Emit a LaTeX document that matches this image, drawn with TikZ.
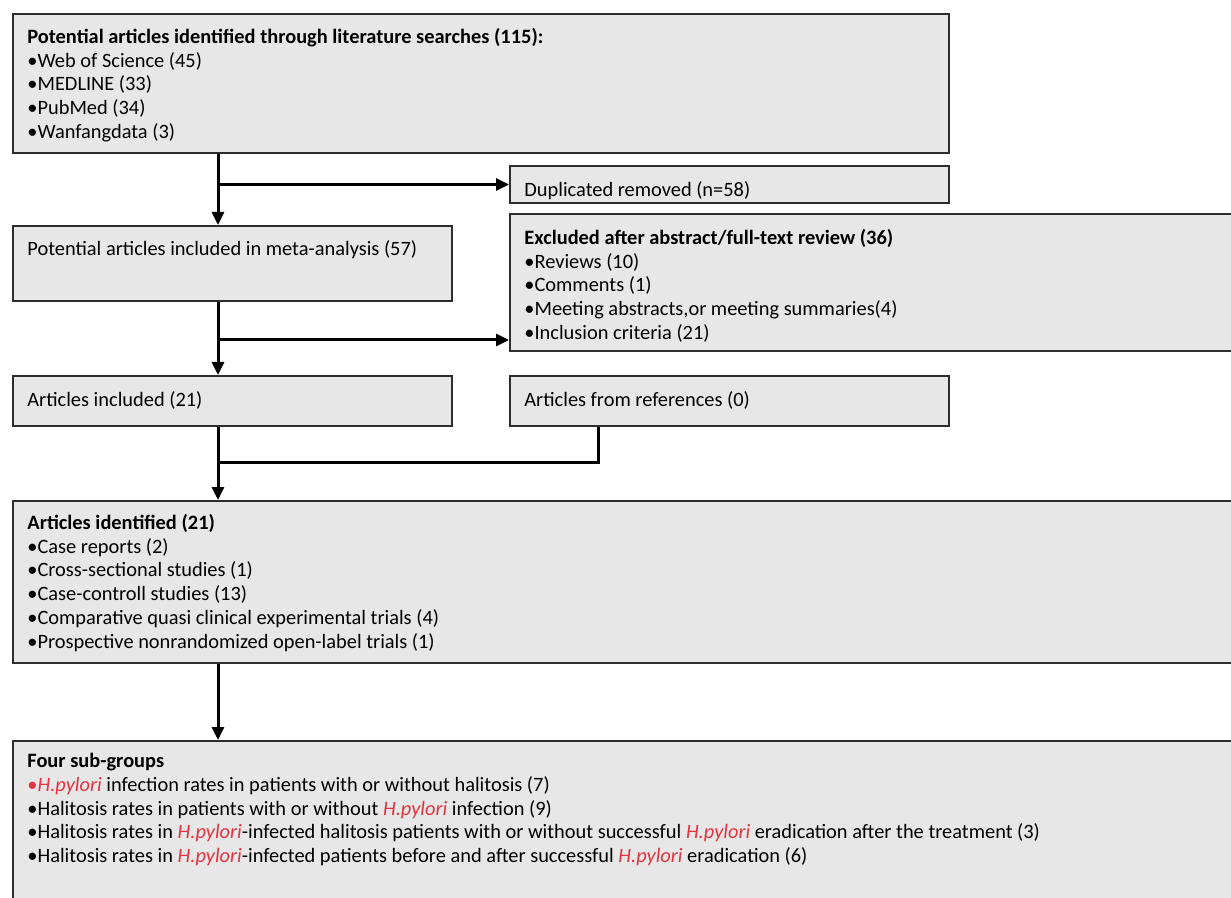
\documentclass[tikz,border=0pt]{standalone}
\usepackage{fontspec}
\setmainfont{Carlito}
\usetikzlibrary{arrows.meta}
\definecolor{boxgray}{RGB}{231,231,231}
\definecolor{boxline}{RGB}{45,45,45}
\definecolor{pyred}{RGB}{226,52,62}
\newcommand{\hpy}{\textcolor{pyred}{\textit{H.pylori}}}

\begin{document}
\begin{tikzpicture}[x=0.5pt, y=-0.5pt, >={Triangle[length=6.5pt,width=6pt]},
  box/.style={draw=boxline, line width=1pt, fill=boxgray, anchor=north west, inner sep=0pt},
  txt/.style={anchor=north west, inner sep=0pt, align=left,
    font=\fontsize{10.2}{11.85}\selectfont, execute at begin node=\strut},
  link/.style={line width=1.5pt, ->},
  joint/.style={line width=1.5pt}]

\useasboundingbox (0,0) rectangle (1231,898);
\clip (0,0) rectangle (1231,898);

% boxes
\node[box, minimum width=468pt, minimum height=69.5pt] (srch) at (12,13) {};
\node[box, minimum width=219.5pt, minimum height=18.5pt] (dup) at (509,165) {};
\node[box, minimum width=219.5pt, minimum height=37.5pt] (pot) at (12,225) {};
\node[box, minimum width=365pt, minimum height=68.5pt] (excl) at (509,213) {};
\node[box, minimum width=219.5pt, minimum height=25pt] (incl) at (12,375) {};
\node[box, minimum width=219.5pt, minimum height=25pt] (refs) at (509,375) {};
\node[box, minimum width=615pt, minimum height=81pt] (ident) at (12,500) {};
\node[box, minimum width=615pt, minimum height=85pt] (four) at (12,740) {};

% texts
\node[txt] (srchtxt) at (27,28) {\textbf{Potential articles identified through literature searches (115):}\\
  •Web of Science (45)\\ •MEDLINE (33)\\ •PubMed (34)\\ •Wanfangdata (3)};
\node[txt] (duptxt) at (524,180) {Duplicated removed (n=58)};
\node[txt] (pottxt) at (27,239) {Potential articles included in meta-analysis (57)};
\node[txt] (excltxt) at (524,229) {\textbf{Excluded after abstract/full-text review (36)}\\
  •Reviews (10)\\ •Comments (1)\\ •Meeting abstracts,or meeting summaries(4)\\ •Inclusion criteria (21)};
\node[txt] (incltxt) at (27,390) {Articles included (21)};
\node[txt] (refstxt) at (524,390) {Articles from references (0)};
\node[txt] (identtxt) at (27,514) {\textbf{Articles identified (21)}\\
  •Case reports (2)\\ •Cross-sectional studies (1)\\ •Case-controll studies (13)\\
  •Comparative quasi clinical experimental trials (4)\\
  •Prospective nonrandomized open-label trials (1)};
\node[txt] (fourtxt) at (27,753) {\textbf{Four sub-groups}\\
  \textcolor{pyred}{•\textit{H.pylori}} infection rates in patients with or without halitosis (7)\\
  •Halitosis rates in patients with or without \hpy{} infection (9)\\
  •Halitosis rates in \hpy-infected halitosis patients with or without successful \hpy{} eradication after the treatment (3)\\
  •Halitosis rates in \hpy-infected patients before and after successful \hpy{} eradication (6)};

% connectors
\coordinate (trunk) at (218,0);
\coordinate (exin) at ([yshift=6pt]excl.south west);
\coordinate (refdrop) at ([xshift=44.5pt]refs.south west);
\coordinate (merge) at (218,462);

\draw[link] (trunk |- srch.south) -- (trunk |- pot.north);
\draw[link] (trunk |- dup.west) -- (dup.west);
\draw[link] (trunk |- pot.south) -- (trunk |- incl.north);
\draw[link] (trunk |- exin) -- (exin);
\draw[joint] (refdrop) |- (merge);
\draw[link] (trunk |- incl.south) -- (trunk |- ident.north);
\draw[link] (trunk |- ident.south) -- (trunk |- four.north);
\end{tikzpicture}
\end{document}
